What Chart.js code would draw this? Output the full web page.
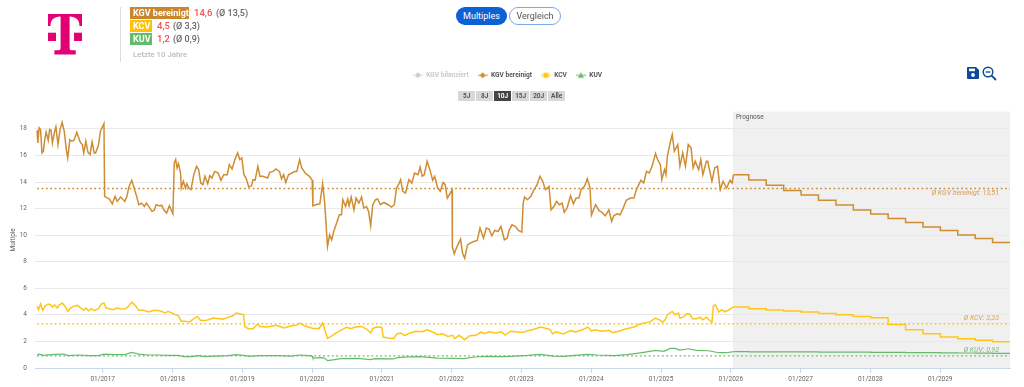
<!DOCTYPE html>
<html lang="de">
<head>
<meta charset="utf-8">
<title>Multiples</title>
<script src="https://cdn.jsdelivr.net/npm/chart.js@4"></script>
<style>
html,body{margin:0;padding:0;background:#fff;width:1024px;height:387px;overflow:hidden;font-family:Roboto,sans-serif}
#wrap{position:relative;width:1024px;height:387px}
#c{position:absolute;left:0;top:0}
.abs{position:absolute;white-space:nowrap}
.badge{color:#fff;font-weight:700;font-size:9px;line-height:12px;padding:0 3px;height:12px;text-align:left}
.val{font-size:9px;line-height:12px;font-weight:500}
.red{color:#ef5350;font-size:9.5px}.gry{color:#666}
.pill{border-radius:10px;font-size:9px;line-height:18px;height:18px;text-align:center;box-sizing:border-box}
.rng{height:10px;line-height:10px;top:91px;width:17.4px;background:#d8d8d8;color:#555;font-size:6.5px;font-weight:700;text-align:center}
</style>
</head>
<body>
<div id="wrap">
<canvas id="c" width="1024" height="387"></canvas>

<svg class="abs" style="left:47px;top:13px" width="36" height="42" viewBox="0 0 36 42">
<path fill="#e20074" d="M1 1H35V13H32.5C32.5 7 29 3.6 22.6 3.6V35C22.6 36.6 23.4 37.3 25 37.3H28.7V41.5H7.4V37.3H11C12.6 37.3 13.6 36.6 13.6 35V3.6C7 3.6 3.5 7 3.5 13H1Z"/>
<rect fill="#e20074" x="1" y="19.7" width="8" height="8.3"/>
<rect fill="#e20074" x="27" y="19.7" width="8" height="8.3"/>
</svg>
<div class="abs" style="left:120px;top:7px;width:1px;height:55px;background:#ddd"></div>

<div class="abs badge" style="left:130px;top:7px;width:53px;background:#c8872f">KGV bereinigt</div>
<div class="abs val red" style="left:194px;top:7px">14,6</div>
<div class="abs val gry" style="left:216px;top:7px">(Ø 13,5)</div>
<div class="abs badge" style="left:130px;top:20px;width:16px;background:#ffc107">KCV</div>
<div class="abs val red" style="left:157px;top:20px">4,5</div>
<div class="abs val gry" style="left:173px;top:20px">(Ø 3,3)</div>
<div class="abs badge" style="left:130px;top:33px;width:16px;background:#66bb6a">KUV</div>
<div class="abs val red" style="left:157px;top:33px">1,2</div>
<div class="abs val gry" style="left:173px;top:33px">(Ø 0,9)</div>
<div class="abs" style="left:133px;top:50px;font-size:7.8px;line-height:10px;font-weight:500;color:#bbb">Letzte 10 Jahre</div>

<div class="abs pill" style="left:456px;top:7px;width:51px;background:#0b62d6;color:#fff">Multiples</div>
<div class="abs pill" style="left:509px;top:7px;width:52px;background:#fff;border:1px solid #7aa9e8;color:#555;line-height:16px">Vergleich</div>

<div class="abs rng" style="left:458px">5J</div>
<div class="abs rng" style="left:476px">8J</div>
<div class="abs rng" style="left:494px;background:#444;color:#fff">10J</div>
<div class="abs rng" style="left:512px">15J</div>
<div class="abs rng" style="left:530px">20J</div>
<div class="abs rng" style="left:548px">Alle</div>

<svg class="abs" style="left:967px;top:67px" width="12" height="12" viewBox="0 0 12 12">
<path fill="#0d4a9a" d="M1 0H9L12 3V11a1 1 0 0 1-1 1H1a1 1 0 0 1-1-1V1a1 1 0 0 1 1-1Z"/>
<rect fill="#fff" x="2" y="1.6" width="6" height="2.6"/>
<circle fill="#fff" cx="6" cy="8" r="1.9"/>
</svg>
<svg class="abs" style="left:982px;top:66px" width="15" height="15" viewBox="0 0 15 15">
<circle cx="6" cy="6" r="4.8" fill="none" stroke="#0d4a9a" stroke-width="1.4"/>
<path d="M3.6 6H8.4" stroke="#0d4a9a" stroke-width="1.3"/>
<path d="M9.6 9.6L14 14" stroke="#0d4a9a" stroke-width="1.8"/>
</svg>
</div>

<script>
const tickYears = [2017,2018,2019,2020,2021,2022,2023,2024,2025,2026,2027,2028,2029];
const yearMin = 2016.03, yearMax = 2030.00, forecastStart = 2026.03;

const kgvYears = [
2016.03,2016.04,2016.06,2016.08,2016.10,2016.12,2016.14,2016.16,2016.19,2016.21,2016.23,2016.25,2016.28,2016.30,2016.33,2016.36,2016.39,2016.42,2016.45,2016.47,2016.50,2016.53,2016.56,2016.60,2016.65,2016.68,2016.70,2016.73,2016.76,2016.79,2016.82,2016.85,2016.87,2016.91,2016.94,2016.99,
2017.00,2017.04,2017.07,2017.11,2017.15,2017.18,2017.23,2017.29,2017.32,2017.35,2017.39,2017.43,2017.46,2017.49,2017.53,2017.57,2017.60,2017.64,2017.68,2017.71,2017.74,2017.78,2017.82,2017.85,2017.89,2017.93,2017.98,
2018.00,2018.02,2018.04,2018.06,2018.09,2018.10,2018.13,2018.16,2018.18,2018.21,2018.24,2018.28,2018.32,2018.35,2018.38,2018.41,2018.44,2018.48,2018.51,2018.54,2018.58,2018.63,2018.67,2018.71,2018.76,2018.79,2018.83,2018.87,2018.91,2018.94,2018.97,
2019.00,2019.03,2019.07,2019.11,2019.13,2019.16,2019.20,2019.23,2019.27,2019.34,2019.37,2019.42,2019.46,2019.51,2019.54,2019.57,2019.60,2019.64,2019.69,2019.73,2019.76,2019.80,2019.83,2019.88,2019.94,2019.98,2019.99,
2020.03,2020.09,2020.13,2020.16,2020.20,2020.23,2020.26,2020.29,2020.33,2020.37,2020.40,2020.42,2020.46,2020.49,2020.51,2020.54,2020.58,2020.61,2020.65,2020.69,2020.72,2020.76,2020.79,2020.82,2020.85,2020.89,2020.92,2020.96,
2021.01,2021.07,2021.12,2021.16,2021.19,2021.22,2021.25,2021.28,2021.32,2021.35,2021.37,2021.41,2021.45,2021.50,2021.53,2021.56,2021.59,2021.63,2021.67,2021.71,2021.74,2021.78,2021.82,2021.86,2021.89,2021.92,2021.95,2021.988,2021.993,
2022.02,2022.06,2022.11,2022.14,2022.17,2022.21,2022.25,2022.30,2022.35,2022.39,2022.44,2022.48,2022.52,2022.56,2022.60,2022.65,2022.69,2022.74,2022.78,2022.81,2022.85,2022.90,2022.94,2022.99,
2023.01,2023.03,2023.07,2023.12,2023.16,2023.21,2023.25,2023.29,2023.33,2023.38,2023.41,2023.45,2023.49,2023.53,2023.57,2023.60,2023.64,2023.69,2023.73,2023.77,2023.81,2023.84,2023.89,2023.93,2023.97,2023.99,
2024.01,2024.05,2024.10,2024.14,2024.19,2024.24,2024.28,2024.31,2024.36,2024.40,2024.44,2024.49,2024.55,2024.60,2024.63,2024.67,2024.70,2024.74,2024.78,2024.82,2024.86,2024.91,2024.94,2024.98,
2025.00,2025.04,2025.06,2025.08,2025.12,2025.15,2025.18,2025.23,2025.26,2025.30,2025.34,2025.38,2025.42,2025.45,2025.48,2025.53,2025.56,2025.59,2025.64,2025.66,2025.72,2025.76,2025.80,2025.84,2025.88,2025.93,2025.98,
2026.01,2026.03];
const kgvValues = [
17.90,16.94,18.08,17.95,16.19,16.31,17.19,17.75,17.14,17.95,17.90,16.94,17.75,18.15,16.82,17.95,18.50,17.82,16.44,15.81,17.19,17.07,17.14,17.75,16.99,16.82,16.19,17.07,16.24,16.06,17.02,16.19,16.19,16.74,17.82,18.40,
12.92,12.79,12.72,12.34,12.92,12.54,12.87,12.54,12.92,13.67,14.13,13.42,12.92,12.29,12.41,12.16,12.41,12.11,11.79,11.86,12.29,12.21,12.24,11.91,11.66,12.21,11.61,
15.43,15.69,15.06,15.38,14.68,13.55,14.05,13.55,13.87,13.55,13.42,14.55,15.18,14.93,13.92,13.80,14.43,13.87,14.48,14.30,14.80,14.68,14.13,14.55,14.55,15.31,14.98,15.69,16.19,15.69,15.81,
14.55,14.30,13.62,13.72,14.18,14.13,15.18,14.43,14.43,14.30,14.73,14.80,14.98,14.80,14.23,14.55,13.97,14.55,14.68,14.80,14.80,15.69,15.06,14.68,14.43,14.13,12.21,
12.29,12.36,13.87,12.41,9.14,10.02,9.65,10.28,10.90,11.53,11.53,12.67,12.16,12.72,12.21,12.87,11.91,12.79,12.41,12.87,12.04,12.16,11.79,10.70,12.29,12.67,12.72,12.29,
12.46,12.29,12.11,12.29,13.55,13.80,14.18,13.30,13.17,13.80,14.18,13.92,14.68,14.55,15.13,14.43,14.55,15.56,14.93,14.13,14.43,13.55,13.30,13.97,13.80,12.79,13.04,13.42,9.14,
8.59,9.14,9.70,8.64,8.26,9.27,9.40,9.52,9.60,10.53,9.77,10.53,10.45,9.95,10.35,10.28,10.65,9.65,9.77,10.40,10.78,10.65,10.35,10.23,
12.41,12.87,12.67,12.92,13.37,13.80,14.43,14.05,13.42,13.67,11.91,12.16,12.54,12.29,12.41,11.71,12.04,12.97,12.36,12.79,12.79,13.42,13.67,14.25,13.55,11.51,
11.79,12.29,11.84,11.71,11.46,11.91,11.03,11.46,11.61,11.53,11.96,12.62,12.79,12.79,13.34,13.80,14.13,13.92,14.80,14.68,15.18,16.14,15.69,15.31,
14.18,14.93,14.55,15.94,16.94,17.57,16.31,16.82,15.18,16.19,15.18,16.82,16.57,15.06,15.56,14.93,15.69,14.55,15.56,15.56,14.05,15.06,15.18,13.42,14.05,13.55,14.13,
13.92,14.55];

const kcvYears = [
2016.03,2016.05,2016.08,2016.11,2016.15,2016.19,2016.22,2016.25,2016.28,2016.32,2016.35,2016.39,2016.44,2016.47,2016.51,2016.55,2016.61,2016.66,2016.70,2016.73,2016.77,2016.81,2016.85,2016.91,2016.95,2016.99,
2017.02,2017.08,2017.13,2017.17,2017.24,2017.30,2017.34,2017.39,2017.44,2017.49,2017.56,2017.63,2017.71,2017.79,2017.87,2017.91,2017.985,
2018.06,2018.10,2018.15,2018.22,2018.27,2018.33,2018.38,2018.44,2018.49,2018.56,2018.65,2018.70,2018.77,2018.84,2018.89,2018.97,2018.995,
2019.01,2019.06,2019.13,2019.20,2019.23,2019.34,2019.46,2019.58,2019.68,2019.75,2019.80,2019.87,2019.99,
2020.08,2020.13,2020.16,2020.20,2020.25,2020.32,2020.39,2020.47,2020.54,2020.59,2020.69,2020.76,2020.82,2020.85,2020.90,2020.98,
2021.00,2021.07,2021.15,2021.20,2021.25,2021.31,2021.38,2021.47,2021.56,2021.63,2021.71,2021.78,2021.85,2021.93,
2022.00,2022.03,2022.09,2022.17,2022.24,2022.33,2022.41,2022.45,2022.52,2022.62,2022.70,2022.75,2022.83,2022.93,
2023.00,2023.09,2023.19,2023.26,2023.36,2023.40,2023.43,2023.48,2023.59,2023.69,2023.76,2023.86,2023.94,2023.99,
2024.03,2024.14,2024.24,2024.29,2024.38,2024.48,2024.60,2024.69,2024.76,2024.84,2024.91,2024.98,
2025.01,2025.05,2025.08,2025.15,2025.19,2025.24,2025.26,2025.31,2025.36,2025.40,2025.44,2025.50,2025.55,2025.59,2025.64,2025.69,2025.72,2025.74,2025.77,2025.82,2025.86,2025.90,2025.95,
2026.00,2026.03];
const kcvValues = [
4.64,4.39,4.81,4.34,4.69,4.81,4.76,4.59,4.76,4.51,4.76,4.89,4.59,4.26,4.51,4.64,4.71,4.51,4.34,4.51,4.31,4.46,4.31,4.46,4.81,4.89,
4.51,4.44,4.39,4.51,4.44,4.46,4.64,4.96,4.71,4.34,4.34,4.21,4.34,4.31,4.14,4.26,4.09,
3.93,3.51,3.51,3.46,3.68,3.88,3.58,3.58,3.63,3.76,3.71,3.68,3.81,3.93,4.14,4.04,4.01,
3.13,2.96,2.96,3.33,3.13,3.08,3.21,3.01,3.18,3.21,3.38,3.18,2.98,
2.98,3.38,2.88,2.23,2.38,2.63,2.83,3.06,2.96,3.08,3.13,2.93,2.63,2.96,3.08,3.06,
2.33,2.26,2.23,2.58,2.63,2.46,2.63,2.76,2.73,2.88,2.71,2.51,2.58,2.38,
2.46,2.21,2.46,2.13,2.43,2.46,2.71,2.58,2.73,2.63,2.73,2.48,2.76,2.71,
2.68,2.83,2.96,3.08,2.96,2.88,2.58,2.73,2.56,2.81,2.71,2.88,3.08,2.78,
2.88,2.76,2.83,2.66,2.76,2.93,3.08,3.33,3.38,3.51,3.76,3.58,
3.46,3.63,4.01,4.26,4.01,4.14,3.76,3.83,4.09,4.06,3.71,3.71,3.83,3.63,3.83,3.58,3.43,4.64,4.76,4.21,4.39,4.23,4.33,
4.51,4.59];

const kuvYears = [
2016.03,2016.05,2016.13,2016.22,2016.32,2016.42,2016.47,2016.63,2016.77,2016.91,2016.99,
2017.06,2017.18,2017.30,2017.39,2017.49,2017.63,2017.77,2017.91,
2018.06,2018.13,2018.25,2018.34,2018.44,2018.58,2018.77,2018.89,2018.99,
2019.08,2019.22,2019.34,2019.49,2019.68,2019.80,2019.94,2019.98,2019.99,
2020.13,2020.16,2020.20,2020.30,2020.39,2020.64,2020.82,2020.88,
2021.14,2021.21,2021.35,2021.54,2021.78,2022.02,2022.16,2022.31,2022.50,2022.74,2022.88,
2023.07,2023.26,2023.45,2023.60,2023.74,2023.93,2024.07,2024.31,2024.50,2024.64,2024.74,2024.91,
2025.03,2025.12,2025.19,2025.26,2025.38,2025.50,2025.67,2025.82,2025.93,2026.03];
const kuvValues = [
0.95,1.05,0.95,1.00,1.03,1.05,0.93,0.98,0.93,0.93,1.05,
1.03,1.00,1.03,1.18,1.05,0.98,0.98,0.95,
0.95,0.85,0.85,0.93,0.85,0.90,0.93,1.00,0.95,
0.88,0.93,0.93,0.93,0.90,0.98,0.93,0.90,0.75,
0.78,0.73,0.55,0.63,0.70,0.73,0.63,0.70,
0.68,0.78,0.83,0.85,0.75,0.73,0.70,0.83,0.88,0.85,0.90,
0.95,1.03,0.90,0.88,0.95,1.03,0.98,0.93,1.00,1.10,1.18,1.33,
1.25,1.48,1.48,1.35,1.45,1.33,1.30,1.15,1.15,1.23];

const forecastYears = [2026.03,2026.25,2026.50,2026.75,2027.00,2027.25,2027.50,2027.75,2028.00,2028.25,2028.50,2028.75,2029.00,2029.25,2029.50,2029.75,2030.00];
const kgvForecast = [14.55,14.15,13.75,13.37,13.02,12.62,12.27,11.90,11.60,11.25,10.95,10.62,10.35,10.02,9.75,9.45,9.45];
const kcvForecast = [4.59,4.46,4.36,4.29,4.21,4.11,4.01,3.88,3.78,3.28,2.88,2.58,2.33,2.21,2.08,1.98,1.98];
const kuvForecast = [1.23,1.22,1.22,1.21,1.21,1.20,1.19,1.19,1.18,1.17,1.16,1.15,1.14,1.13,1.12,1.10,1.10];

const avgYears = [yearMin, yearMax];
const avgKgv = [13.51,13.51], avgKcv = [3.33,3.33], avgKuv = [0.92,0.92];
const avgLabels = ["Ø KGV bereinigt: 13,51","Ø KCV: 3,33","Ø KUV: 0,92"];
const legendNames = ["KGV bilanziert","KGV bereinigt","KCV","KUV"];

const cKgv="#cf8d33", cKcv="#ffc61a", cKuv="#66bb6a", cGrey="#cfcfcf";
const zip=(xs,ys)=>xs.map((x,i)=>({x,y:ys[i]}));

function marker(color,shape){
  const k=document.createElement('canvas');k.width=10;k.height=8;
  const g=k.getContext('2d');
  g.strokeStyle=color;g.fillStyle=color;g.lineWidth=1;
  g.beginPath();g.moveTo(0,4);g.lineTo(10,4);g.stroke();
  g.beginPath();
  if(shape==='circle'){g.arc(5,4,2.4,0,Math.PI*2);}
  if(shape==='diamond'){g.moveTo(5,1);g.lineTo(8,4);g.lineTo(5,7);g.lineTo(2,4);g.closePath();}
  if(shape==='square'){g.rect(2.5,1.5,5,5);}
  if(shape==='triangle'){g.moveTo(5,1);g.lineTo(8,6.5);g.lineTo(2,6.5);g.closePath();}
  g.fill();
  return k;
}
const legendMarks=[marker(cGrey,'circle'),marker(cKgv,'diamond'),marker(cKcv,'square'),marker(cKuv,'triangle')];
const legendColors=["#c9c9c9","#555","#555","#555"];

const line=(label,xs,ys,color,extra)=>Object.assign({label,data:zip(xs,ys),borderColor:color,backgroundColor:color,borderWidth:1.5,pointRadius:0,pointHoverRadius:0,tension:0,fill:false},extra||{});
const dotted={borderDash:[1.8,2.6],borderWidth:1.3};
const thin={borderWidth:1.2};

const decor={
  id:'decor',
  beforeDraw(ch){
    const {ctx,chartArea:a,scales:{x}}=ch;
    const l=x.getPixelForValue(forecastStart);
    ctx.save();ctx.fillStyle='#f0f0f0';ctx.fillRect(l,a.top,a.right-l,a.bottom-a.top);ctx.restore();
  },
  afterDatasetsDraw(ch){
    const {ctx,chartArea:a,scales:{x,y}}=ch;
    const l=x.getPixelForValue(forecastStart);
    ctx.save();
    ctx.textBaseline='middle';
    ctx.font='6.5px Roboto';ctx.fillStyle='#555';ctx.textAlign='left';
    ctx.fillText('Prognose',l+3,a.top+6);
    ctx.font='italic 7px Roboto';ctx.textAlign='right';
    const rx=a.right-11;
    ctx.fillStyle='rgba(200,135,47,.8)';ctx.fillText(avgLabels[0],rx,y.getPixelForValue(avgKgv[0])+5);
    ctx.fillStyle='rgba(205,160,40,.85)';ctx.fillText(avgLabels[1],rx,y.getPixelForValue(avgKcv[0])-6);
    ctx.fillStyle='rgba(102,187,106,.9)';ctx.fillText(avgLabels[2],rx,y.getPixelForValue(avgKuv[0])-5.5);
    ctx.restore();
  }
};

new Chart(document.getElementById('c'),{
  type:'line',
  data:{datasets:[
    line('KUV Ø',avgYears,avgKuv,cKuv,dotted),
    line('KCV Ø',avgYears,avgKcv,cKcv,dotted),
    line('KGV Ø',avgYears,avgKgv,cKgv,dotted),
    line('KUV',kuvYears,kuvValues,cKuv,thin),
    line('KUV Prognose',forecastYears,kuvForecast,cKuv,{stepped:true,borderWidth:1.2}),
    line('KCV',kcvYears,kcvValues,cKcv),
    line('KCV Prognose',forecastYears,kcvForecast,cKcv,{stepped:true}),
    line('KGV bereinigt',kgvYears,kgvValues,cKgv),
    line('KGV Prognose',forecastYears,kgvForecast,cKgv,{stepped:true})
  ]},
  options:{
    responsive:false,animation:false,parsing:true,
    layout:{padding:{top:63,left:5,right:14,bottom:0}},
    plugins:{
      tooltip:{enabled:false},
      legend:{
        display:true,position:'top',align:'center',
        labels:{
          font:{family:'Roboto',size:6.6,weight:'700'},
          usePointStyle:true,pointStyleWidth:10,boxHeight:7,padding:9,
          generateLabels:()=>legendNames.map((n,i)=>({text:n,fontColor:legendColors[i],pointStyle:legendMarks[i],hidden:false,lineWidth:0,strokeStyle:'transparent',fillStyle:'transparent',datasetIndex:i}))
        }
      }
    },
    scales:{
      spacer:{type:'linear',axis:'x',position:'top',display:true,grid:{display:false},border:{display:false},ticks:{display:false},afterFit(s){s.height=23;}},
      x:{type:'linear',position:'bottom',min:yearMin,max:yearMax,
        afterBuildTicks(s){s.ticks=tickYears.map(v=>({value:v}));},
        afterFit(s){s.height=19;},
        grid:{drawOnChartArea:false,drawTicks:true,tickLength:5,color:'#ccd6eb'},
        border:{color:'#ccd6eb',width:1},
        ticks:{autoSkip:false,maxRotation:0,padding:2,color:'#666',font:{family:'Roboto',size:6.5},callback:v=>'01/'+v}
      },
      y:{type:'linear',position:'left',min:0,max:19.3,
        afterFit(s){s.width=30;},
        title:{display:true,text:'Multiple',color:'#666',font:{family:'Roboto',size:6.5},padding:{top:4,bottom:0}},
        grid:{color:'#e9e9e9',lineWidth:1,drawTicks:false,tickLength:0},
        border:{display:false},
        ticks:{stepSize:2,includeBounds:false,padding:8,color:'#666',font:{family:'Roboto',size:6.5}}
      }
    }
  },
  plugins:[decor]
});
</script>
</body>
</html>
